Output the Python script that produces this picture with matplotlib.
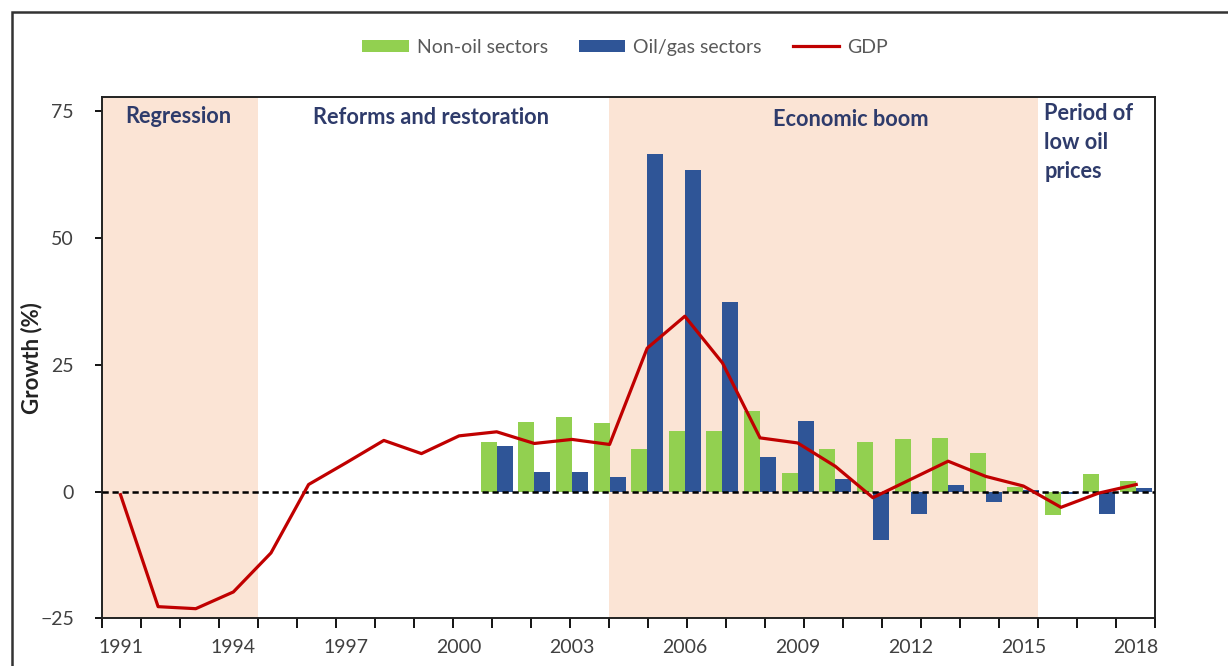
import numpy as np
import matplotlib.pyplot as plt
from matplotlib.patches import Rectangle

plt.rcParams['font.family'] = ['Lato', 'DejaVu Sans']

years = list(range(1991, 2019))
gdp = [-0.6, -22.7, -23.1, -19.8, -12.1, 1.4, 5.7, 10.1, 7.5, 11.0,
       11.8, 9.5, 10.3, 9.3, 28.3, 34.6, 25.4, 10.6, 9.6, 5.0,
       -1.2, 2.4, 6.0, 3.0, 1.1, -3.1, -0.3, 1.4]
non_oil = [np.nan] * 10 + [9.8, 13.7, 14.8, 13.5, 8.4, 12.0, 12.0, 15.9, 3.6,
                           8.4, 9.7, 10.4, 10.5, 7.7, 1.0, -4.7, 3.5, 2.1]
oil = [np.nan] * 10 + [9.0, 3.8, 3.8, 2.8, 66.6, 63.5, 37.5, 6.9, 14.0,
                       2.5, -9.5, -4.4, 1.3, -2.1, 0.3, -0.5, -4.4, 0.8]

period_names = ["Regression", "Reforms and restoration", "Economic boom",
                "Period of\nlow oil\nprices"]
period_edges = [1991, 1995, 2004, 2015, 2018]

# label placement (on the year scale) and alignment
label_x = [1991.6, 1999.45, 2010.2, 2015.16]
label_y = [74.0, 73.8, 73.4, 68.9]
label_ha = ['left', 'center', 'center', 'left']

fig = plt.figure(figsize=(12.28, 6.66), dpi=100)
ax = fig.add_axes([0.0828, 0.0716, 0.8578, 0.7823])

n = len(years)
x = np.arange(n)


def year_pos(yr):
    # shading and tick marks sit on a year value axis (1991..2018)
    return -0.5 + (yr - years[0]) * n / (years[-1] - years[0])


for i in range(len(period_names)):
    if i % 2 == 0:
        ax.axvspan(year_pos(period_edges[i]), year_pos(period_edges[i + 1]),
                   color='#FBE4D5', lw=0, zorder=0)
    ax.text(year_pos(label_x[i]), label_y[i], period_names[i], ha=label_ha[i],
            va='center', fontsize=15.7, fontweight='bold', color='#2E3B6B',
            linespacing=1.45, zorder=5)

w = 0.425
b1 = ax.bar(x - w / 2, non_oil, w, color='#92D050', label='Non-oil sectors', zorder=2)
b2 = ax.bar(x + w / 2, oil, w, color='#2F5597', label='Oil/gas sectors', zorder=2)
ax.axhline(0, color='black', lw=1.8, ls=(0, (2.5, 1.5)), zorder=3)
l1, = ax.plot(x, gdp, color='#C00000', lw=2.3, label='GDP', zorder=4)

ax.set_xlim(-0.5, n - 0.5)
ax.set_ylim(-25, 77.8)
ax.set_yticks([-25, 0, 25, 50, 75])
ax.set_yticklabels(['\u221225', '0', '25', '50', '75'])

ax.set_xticks([year_pos(y) for y in years])
ax.set_xticklabels([])
ax.set_xticks(x[::3], minor=True)
ax.set_xticklabels([str(y) for y in years[::3]], minor=True)
ax.tick_params(axis='x', which='major', length=7, width=1.3, direction='out')
ax.tick_params(axis='x', which='minor', length=0, pad=15, labelsize=14,
               labelcolor='#404040')
ax.tick_params(axis='y', length=5, width=1.3, pad=15, labelsize=14,
               labelcolor='#404040')

for s in ax.spines.values():
    s.set_linewidth(1.4)
    s.set_color('#222222')

ax.set_ylabel('Growth (%)', fontsize=16, fontweight='bold', color='#222222')
ax.yaxis.set_label_coords(-0.0567, 0.5)

fig.legend(handles=[b1, b2, l1], loc='center', bbox_to_anchor=(0.509, 0.929),
           ncol=3, frameon=False, fontsize=14, handlelength=2.4,
           handleheight=0.62, columnspacing=1.6, handletextpad=0.4,
           labelcolor='#595959')

fig.patches.append(Rectangle((0.0095, -0.5), 2.0, 0.9815 + 0.5,
                             transform=fig.transFigure, fill=False,
                             lw=1.8, edgecolor='#333333'))

fig.savefig('out.png', dpi=100)
